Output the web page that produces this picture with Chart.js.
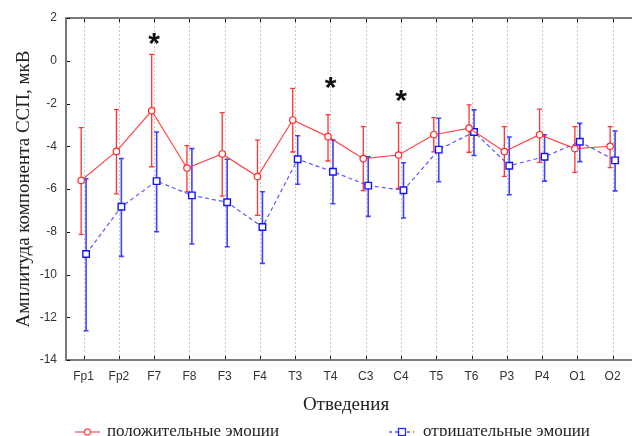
<!DOCTYPE html>
<html>
<head>
<meta charset="utf-8">
<script src="https://cdn.jsdelivr.net/npm/chart.js@4.4.1/dist/chart.umd.min.js"></script>
<style>
  html, body { margin: 0; padding: 0; background: #fff; }
  #wrap { width: 632px; height: 436px; }
</style>
</head>
<body>
<div id="wrap"><canvas id="c" width="632" height="436"></canvas></div>
<script>
// ---- data ----
const leads = ['Fp1','Fp2','F7','F8','F3','F4','T3','T4','C3','C4','T5','T6','P3','P4','O1','O2'];
const posMean = [-5.60,-4.24,-2.34,-5.02,-4.36,-5.42,-2.77,-3.55,-4.58,-4.41,-3.46,-3.15,-4.25,-3.46,-4.11,-4.00];
const posHigh = [-3.13,-2.29, 0.30,-3.97,-2.43,-3.71,-1.29,-2.52,-3.08,-2.90,-2.66,-2.06,-3.08,-2.26,-3.08,-3.08];
const posLow  = [-8.12,-6.23,-4.96,-6.13,-6.33,-7.23,-4.27,-4.69,-6.08,-5.97,-4.26,-4.28,-5.41,-4.75,-5.22,-5.00];
const negMean = [-9.04,-6.83,-5.63,-6.30,-6.62,-7.78,-4.61,-5.19,-5.84,-6.06,-4.16,-3.33,-4.91,-4.49,-3.79,-4.66];
const negHigh = [-5.52,-4.57,-3.33,-4.11,-4.61,-6.13,-3.51,-3.71,-4.49,-4.77,-2.69,-2.30,-3.57,-3.46,-2.93,-3.29];
const negLow  = [-12.63,-9.15,-8.00,-8.57,-8.70,-9.48,-5.78,-6.69,-7.28,-7.36,-5.66,-4.43,-6.27,-5.63,-4.72,-6.09];
const yTicks = [-14,-12,-10,-8,-6,-4,-2,0,2];
const starLeads = ['F7','T4','C4'];
const starLevels = [1.00,-1.06,-1.65];
const seriesNames = ['положительные эмоции','отрицательные эмоции'];
const yTitle = 'Амплитуда компонента ССП, мкВ';
const xTitle = 'Отведения';

const SHIFT = 0.07;
const RED = 'rgba(255,40,40,0.85)';

function pts(vals, dx) { return vals.map((v, i) => ({x: i + dx, y: v})); }

const errorBars = {
  id: 'errorBars',
  beforeDatasetsDraw(chart) {
    const {ctx, scales: {x, y}} = chart;
    const sets = [
      {hi: posHigh, lo: posLow, dx: -SHIFT, color: 'rgba(255,30,30,0.9)', w: 1.3},
      {hi: negHigh, lo: negLow, dx: SHIFT, color: 'rgba(30,30,255,0.85)', w: 1.6}
    ];
    ctx.save();
    // dotted vertical grid
    ctx.strokeStyle = '#c8c8c8';
    ctx.lineWidth = 1;
    ctx.setLineDash([2, 2]);
    leads.forEach((_, i) => {
      const px = Math.round(x.getPixelForValue(i)) + 0.5;
      ctx.beginPath();
      ctx.moveTo(px, chart.chartArea.top);
      ctx.lineTo(px, chart.chartArea.bottom);
      ctx.stroke();
    });
    ctx.setLineDash([]);
    sets.forEach(s => {
      ctx.strokeStyle = s.color;
      ctx.lineWidth = s.w;
      s.hi.forEach((h, i) => {
        const px = x.getPixelForValue(i + s.dx);
        const pt = y.getPixelForValue(h), pb = y.getPixelForValue(s.lo[i]);
        ctx.beginPath();
        ctx.moveTo(px, pt); ctx.lineTo(px, pb);
        ctx.moveTo(px - 2.5, pt); ctx.lineTo(px + 2.5, pt);
        ctx.moveTo(px - 2.5, pb); ctx.lineTo(px + 2.5, pb);
        ctx.stroke();
      });
    });
    ctx.restore();
  },
  afterDraw(chart) {
    const {ctx, chartArea: a, scales: {x, y}} = chart;
    ctx.save();
    // frame
    ctx.strokeStyle = '#7a7a7a';
    ctx.lineWidth = 2;
    ctx.beginPath();
    ctx.moveTo(chart.width, a.top); ctx.lineTo(a.left, a.top);
    ctx.lineTo(a.left, a.bottom); ctx.lineTo(chart.width, a.bottom);
    ctx.stroke();
    // inner ticks
    ctx.strokeStyle = '#111';
    ctx.lineWidth = 1;
    ctx.beginPath();
    leads.forEach((_, i) => {
      const px = Math.round(x.getPixelForValue(i)) + 0.5;
      ctx.moveTo(px, a.top + 1); ctx.lineTo(px, a.top + 4);
      ctx.moveTo(px, a.bottom - 1); ctx.lineTo(px, a.bottom - 4);
    });
    yTicks.forEach(v => {
      const py = Math.round(y.getPixelForValue(v)) + 0.5;
      ctx.moveTo(a.left + 1, py); ctx.lineTo(a.left + 4, py);
    });
    ctx.stroke();
    // significance stars
    ctx.fillStyle = '#111';
    ctx.font = 'bold 30px "Liberation Sans", Arial, sans-serif';
    ctx.textAlign = 'center';
    ctx.textBaseline = 'alphabetic';
    const m = ctx.measureText('*');
    const off = (m.actualBoundingBoxAscent - m.actualBoundingBoxDescent) / 2;
    starLeads.forEach((l, k) => {
      const px = x.getPixelForValue(leads.indexOf(l));
      const py = y.getPixelForValue(starLevels[k]);
      ctx.fillText('*', px, py + off);
    });
    // legend
    const ly = 432;
    ctx.font = '17px "Liberation Serif", "Times New Roman", serif';
    ctx.textAlign = 'left';
    ctx.textBaseline = 'middle';
    // positive
    ctx.strokeStyle = 'rgba(255,60,60,0.85)';
    ctx.lineWidth = 1.3;
    ctx.beginPath(); ctx.moveTo(75, ly); ctx.lineTo(100, ly); ctx.stroke();
    ctx.fillStyle = '#fff';
    ctx.beginPath(); ctx.arc(87.5, ly, 3, 0, Math.PI * 2); ctx.fill(); ctx.stroke();
    ctx.fillStyle = '#222';
    ctx.fillText(seriesNames[0], 107, ly);
    // negative
    ctx.strokeStyle = 'rgba(60,60,255,0.85)';
    ctx.setLineDash([3, 3]);
    ctx.beginPath(); ctx.moveTo(389, ly); ctx.lineTo(414, ly); ctx.stroke();
    ctx.setLineDash([]);
    ctx.fillStyle = '#fff';
    ctx.strokeStyle = 'rgba(30,30,255,0.95)';
    ctx.fillRect(398.5, ly - 3.5, 7, 7);
    ctx.strokeRect(398.5, ly - 3.5, 7, 7);
    ctx.fillStyle = '#222';
    ctx.fillText(seriesNames[1], 423, ly);
    ctx.restore();
  }
};

new Chart(document.getElementById('c'), {
  type: 'line',
  data: {
    datasets: [
      {
        label: seriesNames[0],
        data: pts(posMean, -SHIFT),
        borderColor: RED,
        borderWidth: 1.2,
        pointStyle: 'circle',
        pointRadius: 3.2,
        pointBorderWidth: 1.2,
        pointBorderColor: 'rgba(255,30,30,0.95)',
        pointBackgroundColor: '#fff',
        tension: 0
      },
      {
        label: seriesNames[1],
        data: pts(negMean, SHIFT),
        borderColor: 'rgba(60,60,255,0.85)',
        borderWidth: 1.2,
        borderDash: [4, 3],
        pointStyle: 'rect',
        pointRadius: 4.6,
        pointBorderWidth: 1.4,
        pointBorderColor: 'rgba(20,20,255,1)',
        pointBackgroundColor: '#fff',
        tension: 0
      }
    ]
  },
  options: {
    responsive: false,
    animation: false,
    devicePixelRatio: 1,
    layout: { padding: { top: 18, left: 0, right: 0, bottom: 0 } },
    plugins: { legend: { display: false }, tooltip: { enabled: false } },
    scales: {
      x: {
        type: 'linear',
        min: -0.5,
        max: 15.38,
        afterBuildTicks: s => { s.ticks = leads.map((_, i) => ({value: i})); },
        afterFit: s => { s.height = 76; },
        grid: { display: false, drawTicks: false },
        border: { display: false },
        ticks: {
          autoSkip: false,
          maxRotation: 0,
          padding: 9,
          color: '#333',
          font: { family: '"Liberation Sans", Arial, sans-serif', size: 12 },
          callback: v => leads[v]
        },
        title: {
          display: true,
          text: xTitle,
          color: '#222',
          font: { family: '"Liberation Serif", "Times New Roman", serif', size: 19 },
          padding: { top: 0, bottom: 20 }
        }
      },
      y: {
        min: -14,
        max: 2,
        afterBuildTicks: s => { s.ticks = yTicks.map(v => ({value: v})); },
        afterFit: s => { s.width = 66; },
        grid: { display: false, drawTicks: false },
        border: { display: false },
        ticks: {
          padding: 9,
          color: '#333',
          font: { family: '"Liberation Sans", Arial, sans-serif', size: 12 }
        },
        title: {
          display: true,
          text: yTitle,
          color: '#222',
          font: { family: '"Liberation Serif", "Times New Roman", serif', size: 19 },
          padding: { top: 13, bottom: 0 }
        }
      }
    }
  },
  plugins: [errorBars]
});
</script>
</body>
</html>
